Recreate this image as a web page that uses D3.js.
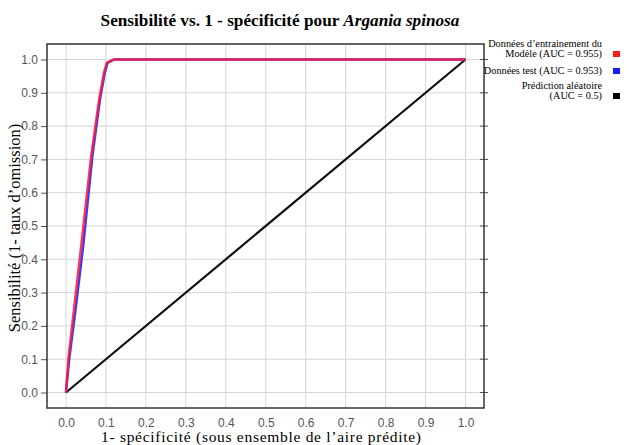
<!DOCTYPE html>
<html>
<head>
<meta charset="utf-8">
<script src="https://cdn.jsdelivr.net/npm/d3@7"></script>
<style>
  body { margin: 0; background: #fff; }
  svg { display: block; }
</style>
</head>
<body>
<svg id="roc" width="630" height="445"></svg>
<script>
// ROC curves: [1 - specificity, sensitivity]
var trainCurve = [[0, 0], [0.006, 0.1], [0.02, 0.25], [0.038, 0.44], [0.063, 0.71], [0.083, 0.88], [0.095, 0.96], [0.102, 0.99], [0.12, 1.0], [1, 1]];
var testCurve = [[0, 0], [0.008, 0.1], [0.024, 0.25], [0.043, 0.44], [0.066, 0.71], [0.085, 0.88], [0.097, 0.96], [0.104, 0.99], [0.12, 1.0], [1, 1]];
var randomLine = [[0, 0], [1, 1]];
var ticks = [0, 0.1, 0.2, 0.3, 0.4, 0.5, 0.6, 0.7, 0.8, 0.9, 1.0];
var legendItems = [
  {lines: ["Données d\u2019entrainement du", "Modèle (AUC = 0.955)"], color: "#ff1a1a"},
  {lines: ["Données test (AUC = 0.953)"], color: "#1a1aff"},
  {lines: ["Prédiction aléatoire", "(AUC = 0.5)"], color: "#000"}
];

var svg = d3.select("#roc"),
  frame = {left: 47, right: 484, top: 44, bottom: 408},
  x = d3.scaleLinear().domain([0, 1]).range([66, 465.5]),
  y = d3.scaleLinear().domain([0, 1]).range([392.5, 59.5]),
  tickFont = "12px 'Liberation Sans Narrow', 'Arial Narrow', 'Liberation Sans', sans-serif",
  serif = "'Liberation Serif', 'Times New Roman', serif";

// grid
var g = svg.append("g");
g.selectAll(".gx").data(ticks).enter().append("line")
  .attr("x1", function(d){return x(d);}).attr("x2", function(d){return x(d);})
  .attr("y1", frame.top).attr("y2", frame.bottom)
  .attr("stroke", "#d6d6d6").attr("stroke-width", 1);
g.selectAll(".gy").data(ticks).enter().append("line")
  .attr("y1", function(d){return y(d);}).attr("y2", function(d){return y(d);})
  .attr("x1", frame.left).attr("x2", frame.right)
  .attr("stroke", "#d6d6d6").attr("stroke-width", 1);

// axes
var fmt = d3.format(".1f");
svg.append("g").attr("transform", "translate(" + frame.left + ",0)")
  .call(d3.axisLeft(y).tickValues(ticks).tickFormat(fmt).tickSize(6).tickPadding(3))
  .call(function(a){
    a.select(".domain").remove();
    a.selectAll("line").attr("stroke", "#555");
    a.selectAll("text").attr("fill", "#555").style("font", tickFont);
  });
svg.append("g").attr("transform", "translate(0," + frame.bottom + ")")
  .call(d3.axisBottom(x).tickValues(ticks).tickFormat(fmt).tickSize(0).tickPadding(10))
  .call(function(a){
    a.select(".domain").remove();
    a.selectAll("text").attr("fill", "#555").style("font", tickFont);
  });
// right side ticks
svg.selectAll(".rt").data(ticks).enter().append("line")
  .attr("x1", frame.right - 4).attr("x2", frame.right + 4)
  .attr("y1", function(d){return y(d);}).attr("y2", function(d){return y(d);})
  .attr("stroke", "#555");

svg.append("rect")
  .attr("x", frame.left).attr("y", frame.top)
  .attr("width", frame.right - frame.left).attr("height", frame.bottom - frame.top)
  .attr("fill", "none").attr("stroke", "#333").attr("stroke-width", 1.5);

// curves
var line = d3.line().x(function(d){return x(d[0]);}).y(function(d){return y(d[1]);});
svg.append("path").datum(randomLine).attr("d", line)
  .attr("fill", "none").attr("stroke", "#111").attr("stroke-width", 2.2);
svg.append("path").datum(testCurve).attr("d", line)
  .attr("fill", "none").attr("stroke", "#3a3aff").attr("stroke-width", 2.5);
svg.append("path").datum(trainCurve).attr("d", line)
  .attr("fill", "none").attr("stroke", "#ff1a3a").attr("stroke-width", 2.5).attr("stroke-opacity", 0.85);

// title
var title = svg.append("text").attr("x", 280).attr("y", 26).attr("text-anchor", "middle")
  .style("font", "bold 17.2px " + serif);
title.append("tspan").text("Sensibilité vs. 1 - spécificité pour ");
title.append("tspan").style("font-style", "italic").text("Argania spinosa");

// axis titles
svg.append("text").attr("x", 261).attr("y", 442).attr("text-anchor", "middle")
  .attr("textLength", 320).attr("lengthAdjust", "spacing")
  .style("font", "15.5px " + serif)
  .text("1- spécificité  (sous ensemble de l\u2019aire prédite)");
svg.append("text").attr("transform", "translate(20,228) rotate(-90)").attr("text-anchor", "middle")
  .style("font", "16.5px " + serif)
  .text("Sensibilité (1- taux d\u2019omission)");

// legend
var legY = [47, 74, 89];
legendItems.forEach(function(item, i){
  var t = svg.append("text").attr("text-anchor", "end")
    .style("font", "10.3px " + serif);
  item.lines.forEach(function(l, j){
    t.append("tspan").attr("x", 602).attr("y", legY[i] + j * 10).text(l);
  });
  var last = legY[i] + (item.lines.length - 1) * 10;
  svg.append("rect").attr("x", 613).attr("y", last - 6).attr("width", 7).attr("height", 6)
    .attr("fill", item.color);
});
</script>
</body>
</html>
